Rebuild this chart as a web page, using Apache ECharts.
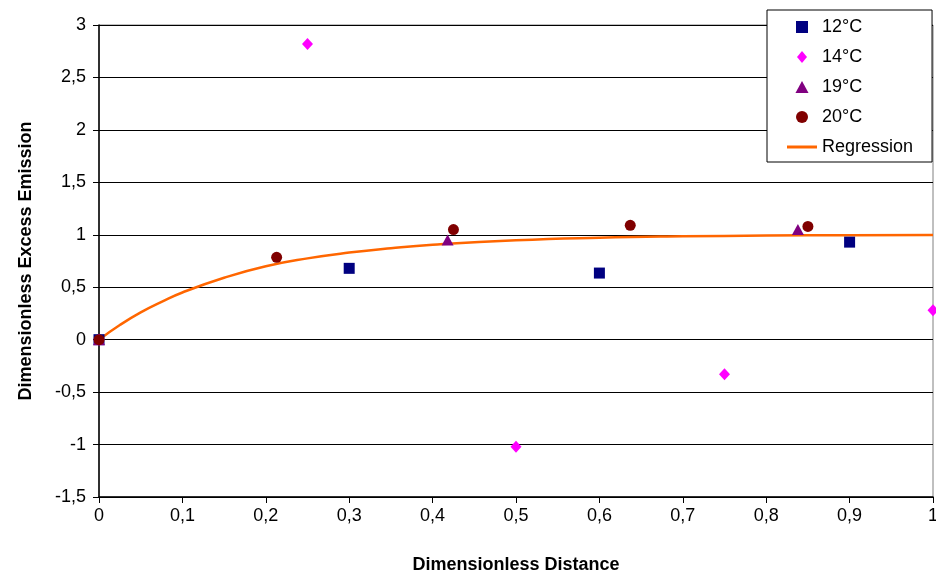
<!DOCTYPE html>
<html><head><meta charset="utf-8">
<script src="https://cdn.jsdelivr.net/npm/echarts@6/dist/echarts.min.js"></script>
<style>html,body{margin:0;padding:0;background:#fff}#c{width:936px;height:577px}</style>
</head><body><div id="c"></div>
<script>
const xTicks = [0,0.1,0.2,0.3,0.4,0.5,0.6,0.7,0.8,0.9,1];
const yTicks = [-1.5,-1,-0.5,0,0.5,1,1.5,2,2.5,3];
const s12 = [[0,0],[0.3,0.68],[0.6,0.635],[0.9,0.93]];
const s14 = [[0,0],[0.25,2.82],[0.5,-1.02],[0.75,-0.33],[1.0,0.28]];
const s19 = [[0,0],[0.418,0.95],[0.838,1.05]];
const s20 = [[0,0],[0.213,0.785],[0.425,1.05],[0.637,1.09],[0.85,1.08]];
const regression = [[0,0],[0.025,0.14],[0.05,0.26],[0.075,0.36],[0.1,0.45],[0.15,0.59],[0.2,0.70],[0.25,0.775],[0.3,0.83],[0.35,0.872],[0.4,0.905],[0.5,0.948],[0.6,0.972],[0.7,0.985],[0.8,0.992],[0.9,0.996],[1.0,0.998]];

const fmt = v => String(+v.toFixed(2)).replace('.', ',');
const font = 'Liberation Sans, Arial, sans-serif';
const chart = echarts.init(document.getElementById('c'));
chart.setOption({
  animation:false,
  backgroundColor:'#fff',
  grid:{left:99,right:3,top:25,bottom:80,outerBoundsMode:'none',containLabel:false,show:true,borderColor:'#808080',borderWidth:1,backgroundColor:'transparent'},
  xAxis:{type:'value',min:0,max:1,interval:0.1,
    name:'Dimensionless Distance',nameLocation:'middle',nameGap:59,
    nameTextStyle:{fontFamily:font,fontWeight:'bold',fontSize:18,color:'#000'},
    axisLine:{onZero:false,lineStyle:{color:'#000',width:1.5}},
    axisTick:{show:true,length:6,lineStyle:{color:'#000'}},
    axisLabel:{formatter:fmt,fontFamily:font,fontSize:18,color:'#000',margin:10},
    splitLine:{show:false}},
  yAxis:{type:'value',min:-1.5,max:3,interval:0.5,
    name:'Dimensionless Excess Emission',nameLocation:'middle',nameRotate:90,nameGap:64,
    nameTextStyle:{fontFamily:font,fontWeight:'bold',fontSize:18,color:'#000'},
    axisLine:{show:true,onZero:false,lineStyle:{color:'#000',width:1.5}},
    axisTick:{show:true,length:6,lineStyle:{color:'#000'}},
    axisLabel:{formatter:fmt,fontFamily:font,fontSize:18,color:'#000',margin:13},
    splitLine:{show:true,lineStyle:{color:'#000',width:1}}},
  legend:{orient:'vertical',left:767,top:10,backgroundColor:'#fff',borderColor:'#000',borderWidth:1,
    padding:[7,19,5,20],itemWidth:30,itemHeight:12,itemGap:10,symbolKeepAspect:true,
    textStyle:{fontFamily:font,fontSize:18,color:'#000',lineHeight:20},
    data:[
      {name:'12°C',icon:'path://M0,0 L10,0 L10,10 L0,10 Z'},
      {name:'14°C',icon:'path://M5,0 L10,6 L5,12 L0,6 Z'},
      {name:'19°C',icon:'path://M6,0 L12,11 L0,11 Z'},
      {name:'20°C',icon:'circle'},
      {name:'Regression',icon:'path://M0,0 L30,0 L30,3 L0,3 Z'}
    ]},
  series:[
    {name:'Regression',type:'line',data:regression,smooth:true,showSymbol:false,symbol:'none',
      lineStyle:{color:'#ff6600',width:2.5},itemStyle:{color:'#ff6600'},z:1},
    {name:'12°C',type:'scatter',data:s12,symbol:'rect',symbolSize:11,itemStyle:{color:'#000080',opacity:1},z:2},
    {name:'14°C',type:'scatter',data:s14,symbol:'diamond',symbolSize:[11,12],itemStyle:{color:'#ff00ff',opacity:1},z:2},
    {name:'19°C',type:'scatter',data:s19,symbol:'triangle',symbolSize:[12,11],itemStyle:{color:'#800080',opacity:1},z:2},
    {name:'20°C',type:'scatter',data:s20,symbol:'circle',symbolSize:11,itemStyle:{color:'#800000',opacity:1},z:2}
  ]
});
</script></body></html>
